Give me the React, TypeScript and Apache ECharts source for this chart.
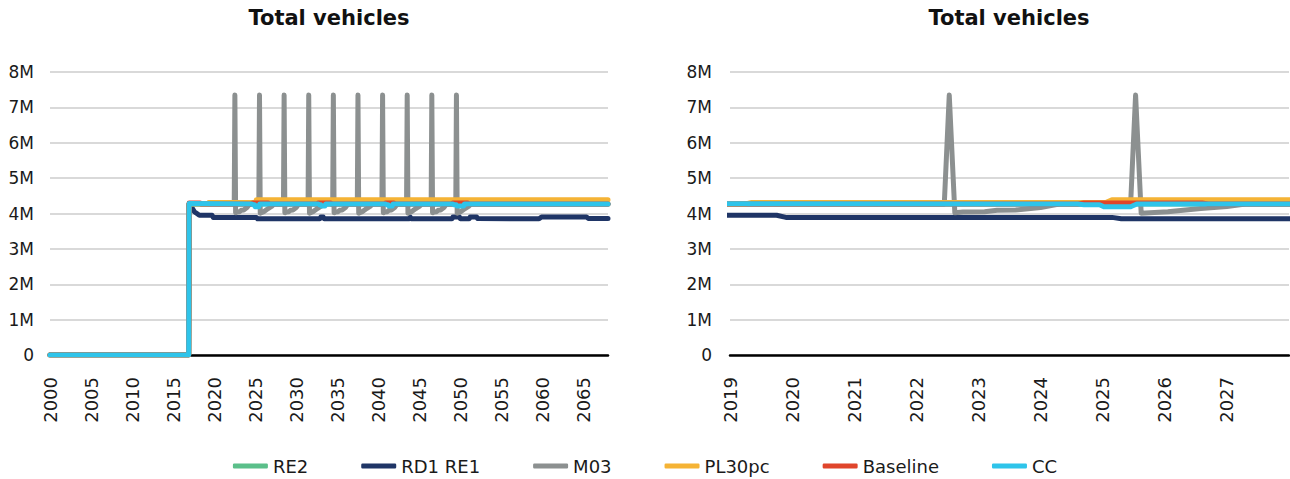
import React, { useEffect, useRef } from "react";
import * as echarts from "echarts";

// ---- data (values in millions of vehicles, x = decimal year) ----
const seriesNames = ["RE2", "RD1 RE1", "M03", "PL30pc", "Baseline", "CC"];
const seriesColors = ["#5BBF8A", "#1F3566", "#8C9090", "#F5B335", "#E0452B", "#2EC4EA"];

const leftYearTicks = ["2000", "2005", "2010", "2015", "2020", "2025", "2030", "2035", "2040", "2045", "2050", "2055", "2060", "2065"];
const rightYearTicks = ["2019", "2020", "2021", "2022", "2023", "2024", "2025", "2026", "2027"];
const valueTicks = ["0", "1M", "2M", "3M", "4M", "5M", "6M", "7M", "8M"];

const re2: number[][] = [
  [2000, 0], [2016.9, 0], [2016.95, 4.27], [2068, 4.27],
];

const rd1re1: number[][] = [
  [2000, 0], [2016.9, 0], [2016.95, 4.27], [2017.2, 4.2], [2017.6, 4.05], [2018.2, 3.95],
  [2019.75, 3.95], [2019.9, 3.89], [2025.15, 3.89], [2025.3, 3.85],
  [2032.9, 3.85], [2033.0, 3.9], [2033.3, 3.9], [2033.4, 3.85],
  [2043.8, 3.85], [2043.9, 3.9], [2044.0, 3.85],
  [2049.0, 3.85], [2049.1, 3.9], [2049.9, 3.9], [2050.0, 3.85],
  [2051.1, 3.85], [2051.2, 3.9], [2052.0, 3.9], [2052.1, 3.86],
  [2059.6, 3.85], [2059.9, 3.9], [2065.4, 3.9], [2065.6, 3.86], [2068, 3.86],
];

const m03: number[][] = [
  [2000, 0], [2016.9, 0], [2016.95, 4.27],
  [2022.45, 4.27], [2022.53, 7.35], [2022.62, 4.02], [2022.75, 4.04], [2023.1, 4.05], [2023.3, 4.09], [2023.6, 4.1], [2024.0, 4.17], [2024.3, 4.27],
  [2025.45, 4.27], [2025.53, 7.35], [2025.62, 4.01], [2026.05, 4.05], [2026.58, 4.14], [2027.0, 4.2], [2027.3, 4.27],
  [2028.45, 4.27], [2028.53, 7.35], [2028.62, 4.02], [2028.75, 4.04], [2029.1, 4.05], [2029.3, 4.09], [2029.6, 4.1], [2030.0, 4.17], [2030.3, 4.27],
  [2031.45, 4.27], [2031.53, 7.35], [2031.62, 4.01], [2032.05, 4.05], [2032.58, 4.14], [2033.0, 4.2], [2033.3, 4.27],
  [2034.45, 4.27], [2034.53, 7.35], [2034.62, 4.02], [2034.75, 4.04], [2035.1, 4.05], [2035.3, 4.09], [2035.6, 4.1], [2036.0, 4.17], [2036.3, 4.27],
  [2037.45, 4.27], [2037.53, 7.35], [2037.62, 4.01], [2038.05, 4.05], [2038.58, 4.14], [2039.0, 4.2], [2039.3, 4.27],
  [2040.45, 4.27], [2040.53, 7.35], [2040.62, 4.02], [2040.75, 4.04], [2041.1, 4.05], [2041.3, 4.09], [2041.6, 4.1], [2042.0, 4.17], [2042.3, 4.27],
  [2043.45, 4.27], [2043.53, 7.35], [2043.62, 4.01], [2044.05, 4.05], [2044.58, 4.14], [2045.0, 4.2], [2045.3, 4.27],
  [2046.45, 4.27], [2046.53, 7.35], [2046.62, 4.02], [2046.75, 4.04], [2047.1, 4.05], [2047.3, 4.09], [2047.6, 4.1], [2048.0, 4.17], [2048.3, 4.27],
  [2049.45, 4.27], [2049.53, 7.35], [2049.62, 4.01], [2050.05, 4.05], [2050.58, 4.14], [2051.0, 4.2], [2051.3, 4.27],
  [2068, 4.27],
];

const pl30pc: number[][] = [
  [2000, 0], [2016.9, 0], [2016.95, 4.27], [2019.25, 4.27], [2019.35, 4.31],
  [2025.05, 4.31], [2025.15, 4.39], [2068, 4.39],
];

const baseline: number[][] = [
  [2000, 0], [2016.9, 0], [2016.95, 4.3], [2018.3, 4.3], [2018.4, 4.27],
  [2024.6, 4.27], [2024.7, 4.3], [2026.6, 4.3], [2026.7, 4.27],
  [2032.6, 4.27], [2032.7, 4.3], [2034.2, 4.3], [2034.3, 4.27],
  [2040.8, 4.27], [2040.9, 4.3], [2041.9, 4.3], [2042.0, 4.27],
  [2049.0, 4.27], [2049.1, 4.3], [2050.9, 4.3], [2051.0, 4.27],
  [2068, 4.27],
];

const cc: number[][] = [
  [2000, 0], [2016.9, 0], [2016.95, 4.28],
  [2024.6, 4.27], [2024.7, 4.25], [2024.95, 4.25], [2025.02, 4.19], [2025.45, 4.19], [2025.55, 4.27],
  [2032.7, 4.27], [2032.8, 4.25], [2033.0, 4.25], [2033.1, 4.21], [2033.5, 4.21], [2033.6, 4.27],
  [2040.9, 4.27], [2041.0, 4.25], [2041.2, 4.25], [2041.3, 4.21], [2041.7, 4.21], [2041.8, 4.27],
  [2049.1, 4.27], [2049.2, 4.25], [2049.5, 4.25], [2049.6, 4.21], [2050.4, 4.21], [2050.5, 4.27],
  [2068, 4.27],
];

const seriesData = [re2, rd1re1, m03, pl30pc, baseline, cc];

const FONT = "'DejaVu Sans', sans-serif";
const TEXT = "#1a1a1a";

export default function App() {
  const ref = useRef<HTMLDivElement>(null);

  useEffect(() => {
    if (!ref.current) return;
    const chart = echarts.init(ref.current, undefined, { renderer: "svg" });

    const yAxisBase = (gridIndex: number, margin: number) => ({
      type: "value",
      gridIndex,
      min: 0,
      max: 8,
      interval: 1,
      axisLine: { show: false },
      axisTick: { show: false },
      splitLine: { show: true, lineStyle: { color: "#d9d9d9", width: 2 } },
      axisLabel: {
        fontFamily: FONT,
        fontSize: 17,
        color: TEXT,
        margin,
        formatter: (v: number) => valueTicks[Math.round(v)] ?? "",
      },
    });

    const xAxisBase = (gridIndex: number, min: number, max: number, interval: number, ticks: string[]) => ({
      type: "value",
      gridIndex,
      min,
      max,
      interval,
      axisLine: { show: true, onZero: false, lineStyle: { color: "#000", width: 2.5 } },
      axisTick: { show: false },
      splitLine: { show: false },
      axisLabel: {
        rotate: 90,
        fontFamily: FONT,
        fontSize: 18,
        color: TEXT,
        margin: 22,
        showMaxLabel: false,
        formatter: (v: number) => {
          const s = String(Math.round(v));
          return Math.abs(v - Math.round(v)) < 1e-6 && ticks.includes(s) ? s : "";
        },
      },
    });

    const series: any[] = [];
    [0, 1].forEach((g) => {
      seriesNames.forEach((name, i) => {
        series.push({
          type: "line",
          name,
          xAxisIndex: g,
          yAxisIndex: g,
          data: seriesData[i],
          showSymbol: false,
          symbol: "none",
          color: seriesColors[i],
          lineStyle: { width: 5, color: seriesColors[i], cap: "round", join: "round" },
          clip: true,
          z: 2 + i * 0.01,
        });
      });
    });

    const titleStyle = { fontFamily: FONT, fontSize: 21, fontWeight: "bold", color: "#111" };

    chart.setOption({
      animation: false,
      textStyle: { fontFamily: FONT },
      title: [
        { text: "Total vehicles", left: 329, top: 7, padding: 0, textAlign: "center", textStyle: titleStyle },
        { text: "Total vehicles", left: 1009, top: 7, padding: 0, textAlign: "center", textStyle: titleStyle },
      ],
      legend: {
        data: seriesNames,
        left: "center",
        top: 457,
        padding: 0,
        icon: "roundRect",
        itemWidth: 35,
        itemHeight: 5,
        itemGap: 53,
        textStyle: { fontFamily: FONT, fontSize: 18, color: TEXT },
      },
      grid: [
        { left: 50, top: 72, width: 558, height: 283 },
        { left: 730, top: 72, width: 559, height: 283 },
      ],
      xAxis: [
        xAxisBase(0, 2000, 2068, 5, leftYearTicks),
        xAxisBase(1, 2019, 2028, 1, rightYearTicks),
      ],
      yAxis: [yAxisBase(0, 16), yAxisBase(1, 18)],
      series,
    });

    return () => chart.dispose();
  }, []);

  return (
    <div
      ref={ref}
      style={{ position: "fixed", left: 0, top: 0, width: 1290, height: 479, background: "#fff" }}
    />
  );
}
